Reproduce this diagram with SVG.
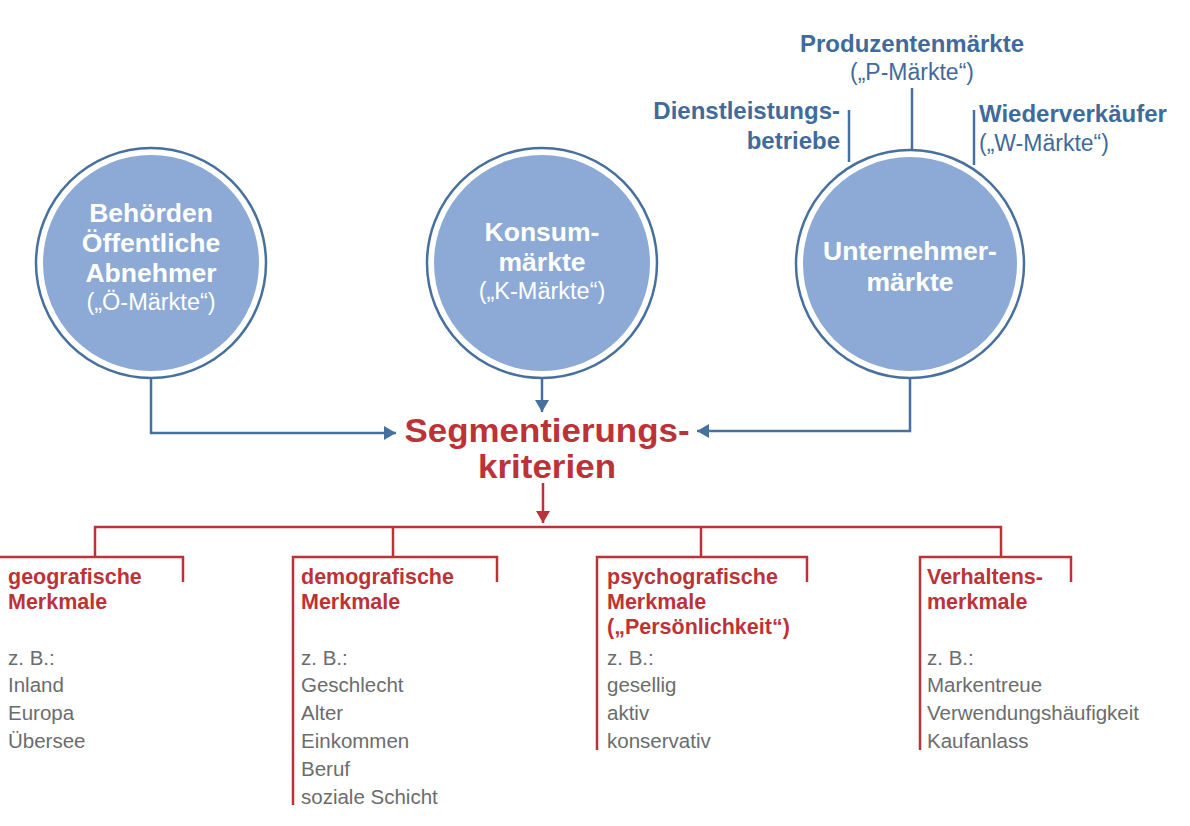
<svg xmlns="http://www.w3.org/2000/svg" width="1190" height="826" viewBox="0 0 1190 826">
<style>
.ring{fill:#fff;stroke:#46709e;stroke-width:2.5}
.disc{fill:#8caad5}
.ct{font-family:"Liberation Sans",Arial,sans-serif;font-weight:bold;font-size:26.5px;fill:#fff;text-anchor:middle}
.cs{font-family:"Liberation Sans",Arial,sans-serif;font-size:23.5px;fill:#fff;text-anchor:middle}
.bl{font-family:"Liberation Sans",Arial,sans-serif;font-weight:bold;font-size:24px;fill:#3f6b9b}
.blr{font-family:"Liberation Sans",Arial,sans-serif;font-size:23px;fill:#3f6b9b}
.bline{stroke:#46709e;stroke-width:2.5;fill:none}
.rline{stroke:#bc3337;stroke-width:2.5;fill:none}
.hd{font-family:"Liberation Sans",Arial,sans-serif;font-weight:bold;font-size:21.5px;fill:#bc3337}
.it{font-family:"Liberation Sans",Arial,sans-serif;font-size:20.5px;fill:#6b6c6e}
.seg{font-family:"Liberation Sans",Arial,sans-serif;font-weight:bold;font-size:33px;fill:#bc3337;text-anchor:middle}
</style>
<defs>
<marker id="ab" markerWidth="14" markerHeight="14" refX="12" refY="7" orient="auto" markerUnits="userSpaceOnUse">
<path d="M0,0 L12,7 L0,14 Z" fill="#46709e"/>
</marker>
<marker id="ar" markerWidth="14" markerHeight="14" refX="12" refY="7" orient="auto" markerUnits="userSpaceOnUse">
<path d="M0,0 L12,7 L0,14 Z" fill="#bc3337"/>
</marker>
</defs>
<g id="connectors">
<path class="bline" d="M151,378 V433 H396" marker-end="url(#ab)"/>
<path class="bline" d="M542,378 V412" marker-end="url(#ab)"/>
<path class="bline" d="M910,378 V431 H697" marker-end="url(#ab)"/>
<path class="rline" d="M543,483 V523" marker-end="url(#ar)"/>
<path class="rline" d="M95,557 V527 H1001 V557"/>
<path class="rline" d="M393,527 V557"/>
<path class="rline" d="M701,527 V557"/>
<path class="bline" d="M912,88 V150"/>
<path class="bline" d="M849,110 V162"/>
<path class="bline" d="M974,110 V165"/>
</g>
<g id="node-oe">
<circle class="ring" cx="151" cy="263" r="115"/>
<circle class="disc" cx="151" cy="263" r="108"/>
<text class="ct" x="151" y="222">Behörden</text>
<text class="ct" x="151" y="252">Öffentliche</text>
<text class="ct" x="151" y="282">Abnehmer</text>
<text class="cs" x="151" y="310">(„Ö-Märkte“)</text>
</g>
<g id="node-k">
<circle class="ring" cx="542" cy="263" r="115"/>
<circle class="disc" cx="542" cy="263" r="108"/>
<text class="ct" x="542" y="241">Konsum-</text>
<text class="ct" x="542" y="271">märkte</text>
<text class="cs" x="542" y="299">(„K-Märkte“)</text>
</g>
<g id="node-u">
<circle class="ring" cx="910" cy="264" r="114"/>
<circle class="disc" cx="910" cy="264" r="107"/>
<text class="ct" x="910" y="260">Unternehmer-</text>
<text class="ct" x="910" y="291">märkte</text>
</g>
<g id="label-p">
<text class="bl" x="912" y="52" text-anchor="middle">Produzentenmärkte</text>
<text class="blr" x="912" y="80" text-anchor="middle">(„P-Märkte“)</text>
</g>
<g id="label-d">
<text class="bl" x="840" y="119" text-anchor="end">Dienstleistungs-</text>
<text class="bl" x="840" y="149" text-anchor="end">betriebe</text>
</g>
<g id="label-w">
<text class="bl" x="979" y="122">Wiederverkäufer</text>
<text class="blr" x="979" y="151">(„W-Märkte“)</text>
</g>
<g id="node-seg">
<text class="seg" x="547" y="442" textLength="285" lengthAdjust="spacingAndGlyphs">Segmentierungs-</text>
<text class="seg" x="547" y="478" textLength="138" lengthAdjust="spacingAndGlyphs">kriterien</text>
</g>
<g id="box-geo">
<path class="rline" d="M0,557 H183 V582"/>
<text class="hd" x="8" y="584">geografische</text>
<text class="hd" x="8" y="609">Merkmale</text>
<text class="it" x="8" y="665">z. B.:</text>
<text class="it" x="8" y="692">Inland</text>
<text class="it" x="8" y="720">Europa</text>
<text class="it" x="8" y="748">Übersee</text>
</g>
<g id="box-demo">
<path class="rline" d="M293,805 V557 H497 V582"/>
<text class="hd" x="301" y="584">demografische</text>
<text class="hd" x="301" y="609">Merkmale</text>
<text class="it" x="301" y="665">z. B.:</text>
<text class="it" x="301" y="692">Geschlecht</text>
<text class="it" x="301" y="720">Alter</text>
<text class="it" x="301" y="748">Einkommen</text>
<text class="it" x="301" y="776">Beruf</text>
<text class="it" x="301" y="804">soziale Schicht</text>
</g>
<g id="box-psy">
<path class="rline" d="M597,750 V557 H807 V582"/>
<text class="hd" x="607" y="584">psychografische</text>
<text class="hd" x="607" y="609">Merkmale</text>
<text class="hd" x="607" y="634">(„Persönlichkeit“)</text>
<text class="it" x="607" y="665">z. B.:</text>
<text class="it" x="607" y="692">gesellig</text>
<text class="it" x="607" y="720">aktiv</text>
<text class="it" x="607" y="748">konservativ</text>
</g>
<g id="box-verh">
<path class="rline" d="M920,750 V557 H1071 V582"/>
<text class="hd" x="927" y="584">Verhaltens-</text>
<text class="hd" x="927" y="609">merkmale</text>
<text class="it" x="927" y="665">z. B.:</text>
<text class="it" x="927" y="692">Markentreue</text>
<text class="it" x="927" y="720">Verwendungshäufigkeit</text>
<text class="it" x="927" y="748">Kaufanlass</text>
</g>
</svg>
